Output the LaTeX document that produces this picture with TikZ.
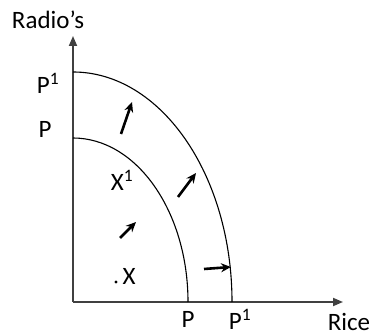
\documentclass[tikz,border=0pt]{standalone}
\usepackage{fontspec}
\setmainfont{Carlito}
\usetikzlibrary{arrows.meta}

\begin{document}
\begin{tikzpicture}[x=1pt,y=1pt,
  lbl/.style={inner sep=0pt,font=\fontsize{25}{25}\selectfont},
  axis/.style={line width=1.8pt,draw=black!75,-{Triangle[length=10pt,width=8pt]}},
  ppf/.style={line width=1.1pt},
  ar/.style={-{Stealth[length=10pt,width=9pt]},line width=2.6pt}]
\useasboundingbox (0,0) rectangle (374,336);
% axes
\coordinate (o) at (73,34);
\coordinate (ytip) at (73,300);
\coordinate (xtip) at (343,34);
\draw[axis] (o) -- (ytip);
\draw[axis] (o) -- (xtip);
% production possibility curves
\draw[ppf] (o) ++(0,164) arc[start angle=90,end angle=0,x radius=115,y radius=164];
\draw[ppf] (o) ++(0,230) arc[start angle=90,end angle=0,x radius=159,y radius=230];
% labels
\node[lbl] (radio) at (48,316) {Radio’s};
\node[lbl] (p1y) at (48,253) {P\textsuperscript{1}};
\node[lbl] (py)  at (45,207) {P};
\node[lbl] (x1)  at (122,156) {X\textsuperscript{1}};
\node[lbl] (x)   at (129,60) {X};
\node[circle,fill=black,inner sep=1.2pt] (xdot) at (116,54) {};
\node[lbl] (px)  at (188,17) {P};
\node[lbl] (p1x) at (240,17) {P\textsuperscript{1}};
\node[lbl] (rice) at (349,14) {Rice};
% shift arrows
\coordinate (a1) at (121,202); \coordinate (b1) at (132,234);
\coordinate (a2) at (178,139); \coordinate (b2) at (196,163);
\coordinate (a3) at (120,98);  \coordinate (b3) at (136,114);
\coordinate (a4) at (204,67);  \coordinate (b4) at (231,69);
\draw[ar] (a1) -- (b1);
\draw[ar] (a2) -- (b2);
\draw[ar] (a3) -- (b3);
\draw[ar] (a4) -- (b4);
\end{tikzpicture}
\end{document}
